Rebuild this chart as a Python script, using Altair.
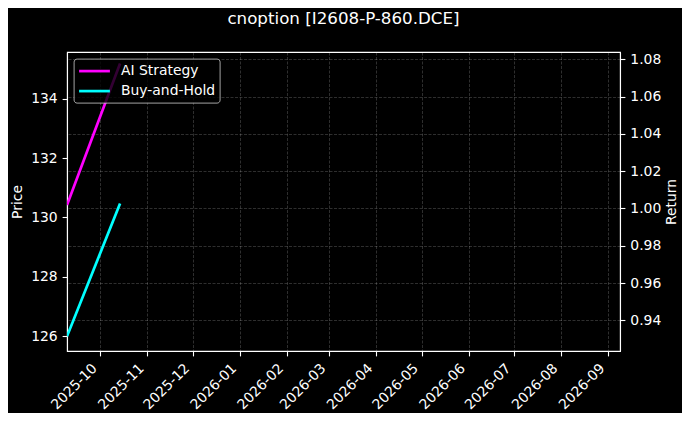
import altair as alt
import pandas as pd

# ---- data ----
series_names = ["AI Strategy", "Buy-and-Hold"]
series_colors = ["#ff00ff", "#00ffff"]

ai_dates = ["2025-09-09", "2025-10-14"]
ai_return = [1.0018, 1.0777]

bh_dates = ["2025-09-09", "2025-10-14"]
bh_price = [126.0, 130.47]

x_domain_dates = ["2025-09-09T00:00:00", "2026-09-08T18:00:00"]
x_tick_dates = ["2025-10-01", "2025-11-01", "2025-12-01", "2026-01-01",
                "2026-02-01", "2026-03-01", "2026-04-01", "2026-05-01",
                "2026-06-01", "2026-07-01", "2026-08-01", "2026-09-01"]

price_domain = [125.505, 135.57]
price_ticks = [126, 128, 130, 132, 134]
return_domain = [0.92353, 1.0839]
return_ticks = [0.94, 0.96, 0.98, 1.00, 1.02, 1.04, 1.06, 1.08]

title_text = "cnoption [I2608-P-860.DCE]"


def ms(values):
    return [int(pd.Timestamp(v).value // 10**6) for v in values]


ai_df = pd.DataFrame({"date": ms(ai_dates), "value": ai_return,
                      "series": series_names[0]})
bh_df = pd.DataFrame({"date": ms(bh_dates), "value": bh_price,
                      "series": series_names[1]})

FONT = "DejaVu Sans"
FS = 13.9

x_enc = alt.X(
    "date:T",
    scale=alt.Scale(type="utc", domain=ms(x_domain_dates)),
    axis=alt.Axis(
        values=ms(x_tick_dates), format="%Y-%m", title=None,
        labelAngle=315, labelAlign="right", labelBaseline="middle",
        labelPadding=10, labelOffset=-6, labelOverlap=False,
        labelFlush=False, labelBound=False,
    ),
)

color_enc = alt.Color(
    "series:N",
    scale=alt.Scale(domain=series_names, range=series_colors),
    legend=alt.Legend(
        orient="none", legendX=6.6, legendY=6.6, title=None,
        symbolType="M-1,0L3.4,0", symbolSize=196, symbolStrokeWidth=2.7,
        labelFontSize=FS, labelColor="white", labelFont=FONT,
        fillColor="rgba(0,0,0,0.8)", strokeColor="rgba(204,204,204,0.8)",
        cornerRadius=3, padding=4, rowPadding=4, labelOffset=26.4,
    ),
)

price_layer = alt.Chart(bh_df).mark_line(strokeWidth=2.7, clip=True).encode(
    x=x_enc,
    y=alt.Y(
        "value:Q",
        scale=alt.Scale(domain=price_domain, nice=False, zero=False),
        axis=alt.Axis(
            values=price_ticks, format="d", title="Price", orient="left",
            titleAngle=270, titleX=-50, titleY=149.5, titleAlign="center",
            titleBaseline="middle",
        ),
    ),
    color=color_enc,
)

return_layer = alt.Chart(ai_df).mark_line(strokeWidth=2.7, clip=True).encode(
    x=x_enc,
    y=alt.Y(
        "value:Q",
        scale=alt.Scale(domain=return_domain, nice=False, zero=False),
        axis=alt.Axis(
            values=return_ticks, format=".2f", title="Return", orient="right",
            titleAngle=270, titleX=51.7, titleY=149.5, titleAlign="center",
            titleBaseline="middle",
        ),
    ),
    color=color_enc,
)

chart = (
    alt.layer(return_layer, price_layer)
    .resolve_scale(y="independent")
    .properties(
        width=553, height=299,
        autosize=alt.AutoSizeParams(type="none"),
        padding={"left": 59, "top": 44, "right": 62, "bottom": 62},
        background="black",
        title=alt.TitleParams(
            text=title_text, color="white", font=FONT, fontSize=16.7,
            fontWeight="normal", anchor="middle", frame="group",
            offset=11, baseline="alphabetic",
        ),
    )
    .configure_view(stroke="white", strokeWidth=1.1)
    .configure_axis(
        domainColor="white", domainWidth=1.1,
        tickColor="white", tickSize=4.9, tickWidth=1.1,
        labelColor="white", labelFont=FONT, labelFontSize=FS,
        labelPadding=4.9,
        titleColor="white", titleFont=FONT, titleFontSize=FS,
        titleFontWeight="normal",
        grid=True, gridColor="#ffffff", gridOpacity=0.3, gridWidth=0.6,
        gridDash=[3, 1.5],
    )
)

chart.save("out.html", embed_options={"renderer": "svg", "actions": False})
